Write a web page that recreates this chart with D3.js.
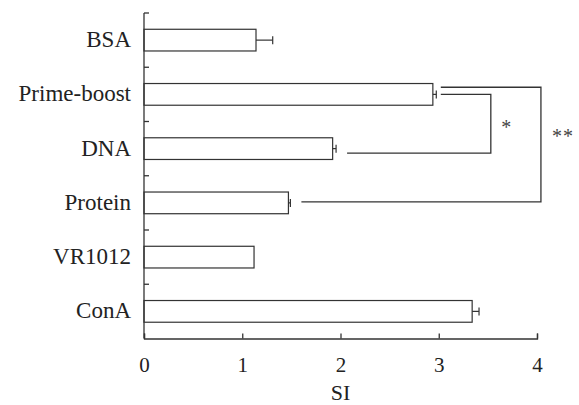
<!DOCTYPE html>
<html>
<head>
<meta charset="utf-8">
<script src="https://d3js.org/d3.v7.min.js"></script>
<style>
  body { margin: 0; background: #fff; }
  text { font-family: "Liberation Serif", "Times New Roman", serif; fill: #222; }
</style>
</head>
<body>
<svg width="579" height="405"></svg>
<script>
// data
const groups = ["BSA", "Prime-boost", "DNA", "Protein", "VR1012", "ConA"];
const si = [1.14, 2.94, 1.92, 1.47, 1.12, 3.34];
const siErr = [0.17, 0.035, 0.035, 0.02, 0, 0.07];
const xTicks = [0, 1, 2, 3, 4];

// significance brackets: from group, to group, x of the vertical, label
const brackets = [
  { a: "Prime-boost", b: "DNA", at: 3.53, label: "*" },
  { a: "Prime-boost", b: "Protein", at: 4.04, label: "**" }
];

const svg = d3.select("svg");
const ink = "#333";

const x = d3.scaleLinear().domain([0, 4]).range([144, 537]);
const y = d3.scaleBand().domain(groups).range([13, 338.5]).padding(0);
const barH = y.bandwidth() * 0.4;
const mid = g => y(g) + y.bandwidth() / 2;

// bars
svg.selectAll("rect.bar")
  .data(groups)
  .enter()
  .append("rect")
  .attr("x", x(0))
  .attr("y", d => mid(d) - barH / 2)
  .attr("width", (d, i) => x(si[i]) - x(0))
  .attr("height", barH)
  .attr("fill", "#fff")
  .attr("stroke", ink)
  .attr("stroke-width", 1.2);

// error bars (one side)
groups.forEach((g, i) => {
  if (!siErr[i]) return;
  const x1 = x(si[i]), x2 = x(si[i] + siErr[i]), cy = mid(g);
  svg.append("line")
    .attr("x1", x1).attr("x2", x2).attr("y1", cy).attr("y2", cy)
    .attr("stroke", ink).attr("stroke-width", 1.2);
  svg.append("line")
    .attr("x1", x2).attr("x2", x2).attr("y1", cy - 4).attr("y2", cy + 4)
    .attr("stroke", ink).attr("stroke-width", 1.2);
});

// y axis with inward ticks at the band edges
svg.append("line")
  .attr("x1", x(0)).attr("x2", x(0)).attr("y1", 13).attr("y2", 338.5)
  .attr("stroke", ink).attr("stroke-width", 1.3);
svg.selectAll("line.ytick")
  .data(groups)
  .enter()
  .append("line")
  .attr("x1", x(0)).attr("x2", x(0) + 5)
  .attr("y1", d => y(d)).attr("y2", d => y(d))
  .attr("stroke", ink).attr("stroke-width", 1.3);

svg.selectAll("text.ylab")
  .data(groups)
  .enter()
  .append("text")
  .attr("x", 131)
  .attr("y", d => mid(d) + 7)
  .attr("text-anchor", "end")
  .style("font-size", "23px")
  .text(d => d);

// x axis
const xAxis = d3.axisBottom(x).tickValues(xTicks).tickSize(-5).tickPadding(19).tickFormat(d3.format("d"));
const gx = svg.append("g").attr("transform", "translate(0,338.5)").call(xAxis);
gx.select(".domain").attr("stroke", ink).attr("stroke-width", 1.3);
gx.selectAll(".tick line").attr("stroke", ink).attr("stroke-width", 1.3);
gx.selectAll(".tick text")
  .style("font-size", "21px")
  .style("fill", "#222");

svg.append("text")
  .attr("x", x(2))
  .attr("y", 400)
  .attr("text-anchor", "middle")
  .style("font-size", "22px")
  .text("SI");

// brackets
const tops = { "*": mid("Prime-boost"), "**": y("Prime-boost") + 20 };
const ends = { "*": mid("DNA") + 4.5, "**": mid("Protein") - 1 };
brackets.forEach(b => {
  const top = tops[b.label], bot = ends[b.label];
  const ia = groups.indexOf(b.a), ib = groups.indexOf(b.b);
  const xa = x(si[ia] + siErr[ia]) + 4.5;
  const xb = x(si[ib] + siErr[ib]) + 11;
  svg.append("path")
    .attr("d", `M${xa},${top}H${x(b.at)}V${bot}H${xb}`)
    .attr("fill", "none")
    .attr("stroke", ink)
    .attr("stroke-width", 1.3);
  svg.append("text")
    .attr("x", x(b.at) + (b.label === "*" ? 16 : 22))
    .attr("y", (b.label === "*" ? 134 : 143))
    .attr("text-anchor", "middle")
    .style("font-size", "20px")
    .attr("letter-spacing", 1)
    .style("fill", "#444")
    .text(b.label);
});
</script>
</body>
</html>
